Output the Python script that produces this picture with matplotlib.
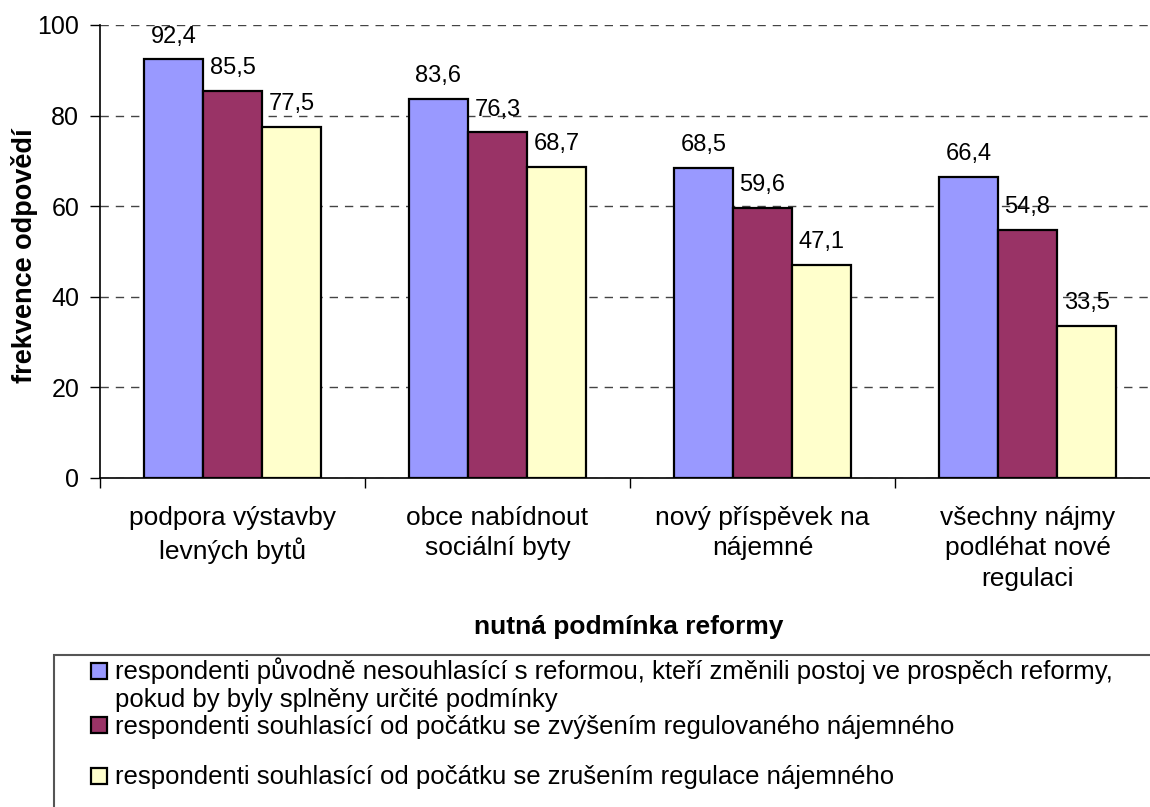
import matplotlib
matplotlib.use("Agg")
import matplotlib.pyplot as plt
from matplotlib.patches import Rectangle
import numpy as np

plt.rcParams['font.family'] = ['Liberation Sans', 'DejaVu Sans']

categories = ["podpora výstavby\nlevných bytů", "obce nabídnout\nsociální byty",
              "nový příspěvek na\nnájemné", "všechny nájmy\npodléhat nové\nregulaci"]
legend_lines = [
    "respondenti původně nesouhlasící s reformou, kteří změnili postoj ve prospěch reformy,",
    "pokud by byly splněny určité podmínky",
    "respondenti souhlasící od počátku se zvýšením regulovaného nájemného",
    "respondenti souhlasící od počátku se zrušením regulace nájemného",
]
blue_vals = [92.4, 83.6, 68.5, 66.4]
maroon_vals = [85.5, 76.3, 59.6, 54.8]
yellow_vals = [77.5, 68.7, 47.1, 33.5]
colors = ["#9999FF", "#993366", "#FFFFCC"]
y_ticks = [0, 20, 40, 60, 80, 100]

W, H = 1150, 807
fig = plt.figure(figsize=(W / 100, H / 100), dpi=100)
ax = fig.add_axes([100 / W, 1 - 478 / H, 1060 / W, 453 / H])

x = np.arange(len(categories))
bw = 0.223
for i, vals in enumerate([blue_vals, maroon_vals, yellow_vals]):
    pos = x + (i - 1) * bw
    ax.bar(pos, vals, width=bw, color=colors[i], edgecolor="black", linewidth=1.6, zorder=3)
    for px, v in zip(pos, vals):
        ax.annotate(f"{v:.1f}".replace(".", ","), (px, v), xytext=(0, 8.5),
                    textcoords="offset points", ha="center", va="bottom",
                    fontsize=17, zorder=4)

ax.set_xlim(-0.5, len(categories) - 0.5)
ax.set_ylim(0, 100)
ax.set_yticks(y_ticks)
ax.set_yticklabels([str(t) for t in y_ticks], fontsize=18)
ax.yaxis.grid(True, linestyle=(0, (6, 5)), color="#444444", linewidth=1.0, zorder=0)
ax.tick_params(axis="y", length=7, width=1.0, pad=8, direction="out")

ax.set_xticks(x)
ax.set_xticklabels(categories, fontsize=19, linespacing=1.35)
ax.tick_params(axis="x", which="major", length=0, pad=20)
ax.set_xticks(np.arange(-0.5, len(categories), 1.0), minor=True)
ax.tick_params(axis="x", which="minor", length=7, width=1.0, direction="out")

for s in ["top", "right"]:
    ax.spines[s].set_visible(False)
ax.spines["left"].set_linewidth(1.2)
ax.spines["bottom"].set_linewidth(1.2)

fig.text(24 / W, 1 - 256 / H, "frekvence odpovědí", rotation=90, fontsize=19.5,
         fontweight="bold", ha="center", va="center")
fig.text(629 / W, 1 - 627 / H, "nutná podmínka reformy", fontsize=19,
         fontweight="bold", ha="center", va="center")

# legend box
fig.patches.append(Rectangle((54 / W, -0.05), 1.2, 0.05 + 1 - 655 / H, transform=fig.transFigure,
                             facecolor="white", edgecolor="#555555", linewidth=1.5))
marker_tops = [663, 717, 768]
for i, c in enumerate(colors):
    fig.patches.append(Rectangle((91 / W, 1 - (marker_tops[i] + 16) / H), 16 / W, 16 / H,
                                 transform=fig.transFigure, facecolor=c,
                                 edgecolor="black", linewidth=1.6))
line_centers = [671, 700, 727, 777]
for txt, yc in zip(legend_lines, line_centers):
    fig.text(115 / W, 1 - yc / H, txt, fontsize=18.5, ha="left", va="center")

fig.savefig("out.png", dpi=100)
